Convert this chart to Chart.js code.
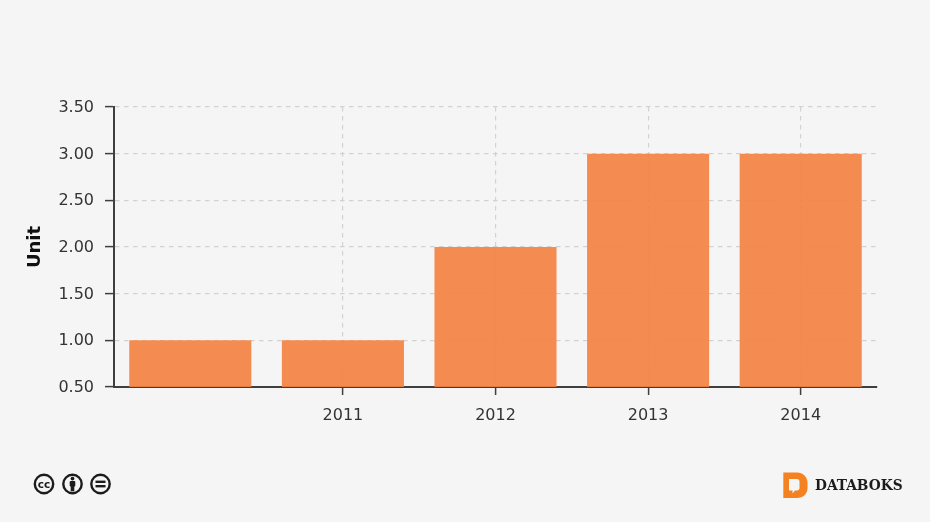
<!DOCTYPE html>
<html>
<head>
<meta charset="utf-8">
<title>Unit</title>
<script src="https://cdn.jsdelivr.net/npm/chart.js@4"></script>
<style>
  html, body { margin: 0; padding: 0; background: #f5f5f5; overflow: hidden; }
  #wrap { position: relative; width: 930px; height: 522px; }
  #chart { position: absolute; left: 0; top: 0; }
  .logo { position: absolute; }
</style>
</head>
<body>
<div id="wrap">
  <canvas id="chart" width="930" height="522"></canvas>

  <!-- creative commons badges -->
  <svg class="logo" style="left:32px;top:472px" width="82" height="24" viewBox="0 0 82 24">
    <g fill="none" stroke="#1c1c1c" stroke-width="2.4">
      <circle cx="12" cy="12" r="9.2"/>
      <circle cx="40.5" cy="12" r="9.2"/>
      <circle cx="68.5" cy="12" r="9.2"/>
    </g>
    <text x="12" y="15.5" text-anchor="middle" font-family="DejaVu Sans" font-weight="bold" font-size="10.5" fill="#1c1c1c">cc</text>
    <circle cx="40.5" cy="6.6" r="1.9" fill="#1c1c1c"/>
    <rect x="37.7" y="9" width="5.6" height="5.6" rx="1" fill="#1c1c1c"/>
    <rect x="38.7" y="13.5" width="3.6" height="5.8" fill="#1c1c1c"/>
    <rect x="63.5" y="8.6" width="10" height="2.4" fill="#1c1c1c"/>
    <rect x="63.5" y="13" width="10" height="2.4" fill="#1c1c1c"/>
  </svg>

  <!-- databoks mark -->
  <svg class="logo" style="left:783px;top:472px" width="26" height="27" viewBox="0 0 26 27">
    <path d="M0.3 0.5 H14 C20 0.5 24.5 5 24.5 11 V16 C24.5 22 20 26 14 26 H0.3 Z" fill="#f58220"/>
    <path d="M6 7 H14 C15.5 7 16.5 8 16.5 9.5 V16 C16.5 17.5 15.5 18.5 14 18.5 H12 L9.5 21.5 V18.5 H6 Z" fill="#f5f5f5"/>
  </svg>
  <div class="logo" style="left:815px;top:476px;font:bold 15.3px 'DejaVu Serif Condensed','DejaVu Serif';font-stretch:condensed;color:#1c1c1c">DATABOKS</div>
</div>

<script>
// Данные
const categories = ['', '2011', '2012', '2013', '2014'];
const values = [1, 1, 2, 3, 3];
const yMin = 0.5;
const yMax = 3.5;
const yStep = 0.5;
const yTitle = 'Unit';

const fontFamily = "'DejaVu Sans', Verdana, sans-serif";
const gridColor = '#d2d2d2';
const axisColor = '#3f3f3f';

new Chart(document.getElementById('chart').getContext('2d'), {
    type: 'bar',
    data: {
        labels: categories,
        datasets: [{
            data: values,
            backgroundColor: 'rgba(244, 128, 62, 0.9)',
            borderWidth: 0,
            barPercentage: 0.8,
            categoryPercentage: 1
        }]
    },
    options: {
        responsive: false,
        animation: false,
        layout: { padding: { top: 107, right: 53, bottom: 0, left: 25 } },
        plugins: { legend: { display: false }, tooltip: { enabled: false } },
        scales: {
            x: {
                afterFit: (scale) => { scale.height = 135; },
                border: { color: axisColor, width: 2, dash: [4.5, 4.5] },
                grid: {
                    // у первой категории нет подписи, поэтому нет ни сетки, ни засечки
                    color: (ctx) => ctx.index === 0 ? 'rgba(0,0,0,0)' : gridColor,
                    tickColor: (ctx) => ctx.index === 0 ? 'rgba(0,0,0,0)' : axisColor,
                    tickBorderDash: [],
                    tickLength: 8,
                    tickWidth: 1.5,
                    offset: false,
                    lineWidth: 1.2
                },
                ticks: { color: '#333', font: { family: fontFamily, size: 16 }, padding: 11, maxRotation: 0, autoSkip: false }
            },
            y: {
                min: yMin,
                max: yMax,
                afterFit: (scale) => { scale.width = 89; },
                afterBuildTicks: (scale) => {
                    scale.ticks = [];
                    for (let v = yMin; v <= yMax; v += yStep) scale.ticks.push({ value: v });
                },
                border: { color: axisColor, width: 2, dash: [4.5, 4.5] },
                grid: {
                    color: gridColor,
                    tickColor: axisColor,
                    tickBorderDash: [],
                    tickLength: 9,
                    tickWidth: 1.5,
                    lineWidth: 1.2
                },
                ticks: {
                    color: '#333',
                    font: { family: fontFamily, size: 16 },
                    padding: 11,
                    labelOffset: 1,
                    callback: (v) => Number(v).toFixed(2)
                },
                title: {
                    display: true,
                    text: yTitle,
                    color: '#111',
                    font: { family: fontFamily, size: 18, weight: 'bold' },
                    padding: 0
                }
            }
        }
    }
});
</script>
</body>
</html>
